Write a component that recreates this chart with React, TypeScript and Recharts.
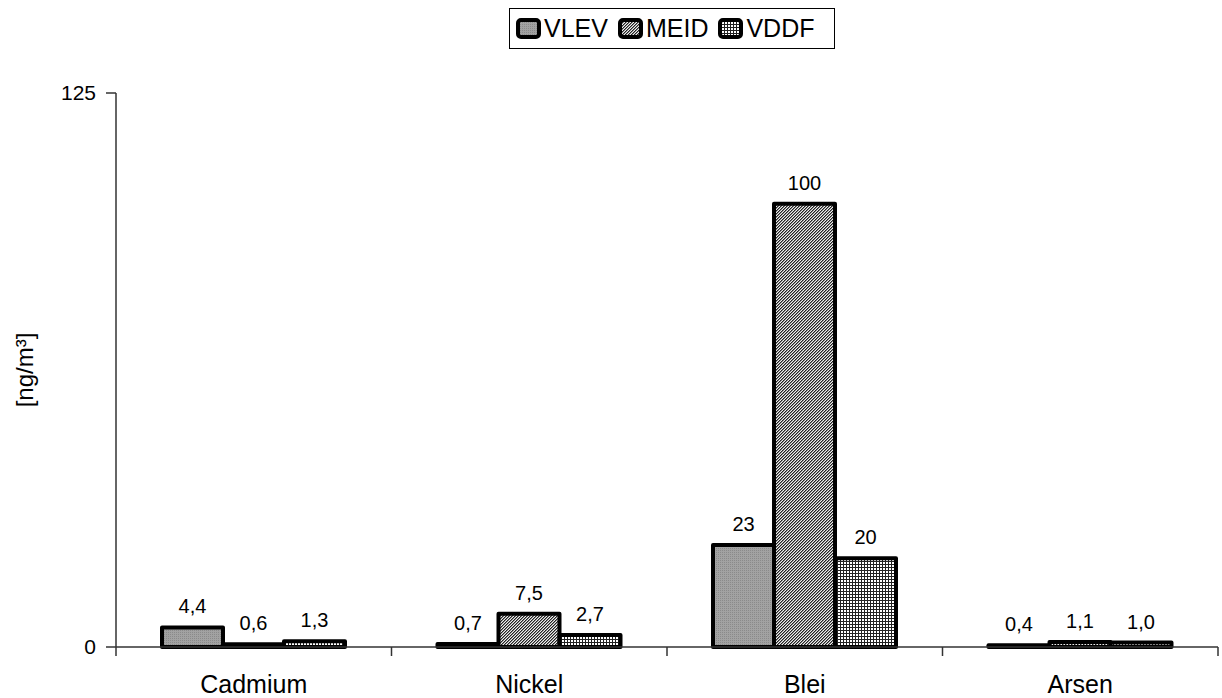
import { BarChart, Bar, XAxis, YAxis, LabelList, Label } from "recharts";

// Schwermetalle im Feinstaub, je Messstelle
const metals = ["Cadmium", "Nickel", "Blei", "Arsen"];
const vlev = [4.4, 0.7, 23, 0.4];
const meid = [0.6, 7.5, 100, 1.1];
const vddf = [1.3, 2.7, 20, 1.0];
const yTicks = [0, 125];

const series = [
  { key: "VLEV", fill: "url(#patVlev)" },
  { key: "MEID", fill: "url(#patMeid)" },
  { key: "VDDF", fill: "url(#patVddf)" },
];

const data = metals.map((name, i) => ({
  name,
  VLEV: vlev[i],
  MEID: meid[i],
  VDDF: vddf[i],
}));

const W = 1222;
const H = 698;
const LEFT = 116;
const RIGHT = 4;
const AXIS_Y = H - 51;
const BAND = (W - LEFT - RIGHT) / metals.length;
const FONT = "'Liberation Sans', Arial, sans-serif";

const fmt = (v: number) => (v >= 10 ? String(v) : v.toFixed(1).replace(".", ","));

function CategoryTick(props: any) {
  const { x, payload, index } = props;
  const left = x - BAND / 2;
  return (
    <g>
      <line x1={left} y1={AXIS_Y} x2={left} y2={AXIS_Y + 9} stroke="#333" strokeWidth={1.5} />
      {index === metals.length - 1 && (
        <line x1={left + BAND} y1={AXIS_Y} x2={left + BAND} y2={AXIS_Y + 9} stroke="#333" strokeWidth={1.5} />
      )}
      <text x={x} y={693} textAnchor="middle" fontSize={25} fontFamily={FONT} fill="#000">
        {payload.value}
      </text>
    </g>
  );
}

function Patterns() {
  return (
    <defs>
      <pattern id="patVlev" width="2" height="2" patternUnits="userSpaceOnUse">
        <rect width="2" height="2" fill="#a2a2a2" />
        <rect width="1" height="1" fill="#8a8a8a" />
      </pattern>
      <pattern id="patMeid" width="3" height="3" patternUnits="userSpaceOnUse">
        <rect width="3" height="3" fill="#eeeeee" />
        <rect x="0" y="2" width="1" height="1" fill="#222" />
        <rect x="1" y="1" width="1" height="1" fill="#222" />
        <rect x="2" y="0" width="1" height="1" fill="#222" />
        <rect x="0" y="0" width="1" height="1" fill="#888" />
        <rect x="1" y="2" width="1" height="1" fill="#888" />
        <rect x="2" y="1" width="1" height="1" fill="#888" />
      </pattern>
      <pattern id="patVddf" width="3" height="3" patternUnits="userSpaceOnUse">
        <rect width="3" height="3" fill="#222" />
        <rect x="1" y="1" width="2" height="2" fill="#ffffff" />
      </pattern>
    </defs>
  );
}

function LegendBox() {
  return (
    <div
      style={{
        position: "absolute",
        left: 509,
        top: 8,
        width: 318,
        height: 39,
        border: "1.5px solid #000",
        display: "flex",
        alignItems: "center",
        paddingLeft: 6,
        gap: 10,
        fontFamily: FONT,
        fontSize: 25,
        background: "#fff",
      }}
    >
      {series.map((s) => (
        <span key={s.key} style={{ display: "flex", alignItems: "center" }}>
          <svg width={25} height={21} style={{ marginRight: 3 }}>
            <rect x={2} y={2} width={21} height={17} rx={3} fill={s.fill} stroke="#000" strokeWidth={4} />
          </svg>
          {s.key}
        </span>
      ))}
    </div>
  );
}

export default function App() {
  return (
    <div style={{ position: "absolute", left: 0, top: 0, width: W, height: H, background: "#fff" }}>
      <BarChart
        width={W}
        height={H}
        data={data}
        margin={{ top: 93, right: RIGHT, bottom: 0, left: 0 }}
        barCategoryGap={46}
        barGap={0}
      >
        <Patterns />
        <XAxis
          dataKey="name"
          height={51}
          stroke="#333"
          strokeWidth={1.5}
          tickLine={false}
          tickSize={0}
          tick={<CategoryTick />}
          interval={0}
        />
        <YAxis
          width={LEFT}
          domain={[0, 125]}
          ticks={yTicks}
          stroke="#333"
          strokeWidth={1.5}
          tickSize={10}
          tickMargin={10}
          tick={{ fill: "#000", fontSize: 21, fontFamily: FONT }}
        >
          <Label
            content={({ viewBox }: any) => {
              const cx = viewBox.x + 24;
              const cy = viewBox.y + viewBox.height / 2;
              return (
                <text
                  x={cx}
                  y={cy}
                  transform={`rotate(-90 ${cx} ${cy})`}
                  textAnchor="middle"
                  dominantBaseline="central"
                  fontSize={24}
                  fontFamily={FONT}
                  fill="#000"
                >
                  [ng/m³]
                </text>
              );
            }}
          />
        </YAxis>
        {series.map((s) => (
          <Bar
            key={s.key}
            dataKey={s.key}
            fill={s.fill}
            stroke="#000"
            strokeWidth={4}
            strokeLinejoin="round"
            isAnimationActive={false}
          >
            <LabelList
              dataKey={s.key}
              position="top"
              offset={14}
              formatter={(v: any) => fmt(Number(v))}
              style={{ fill: "#000", fontSize: 20, fontFamily: FONT }}
            />
          </Bar>
        ))}
      </BarChart>
      <LegendBox />
    </div>
  );
}
